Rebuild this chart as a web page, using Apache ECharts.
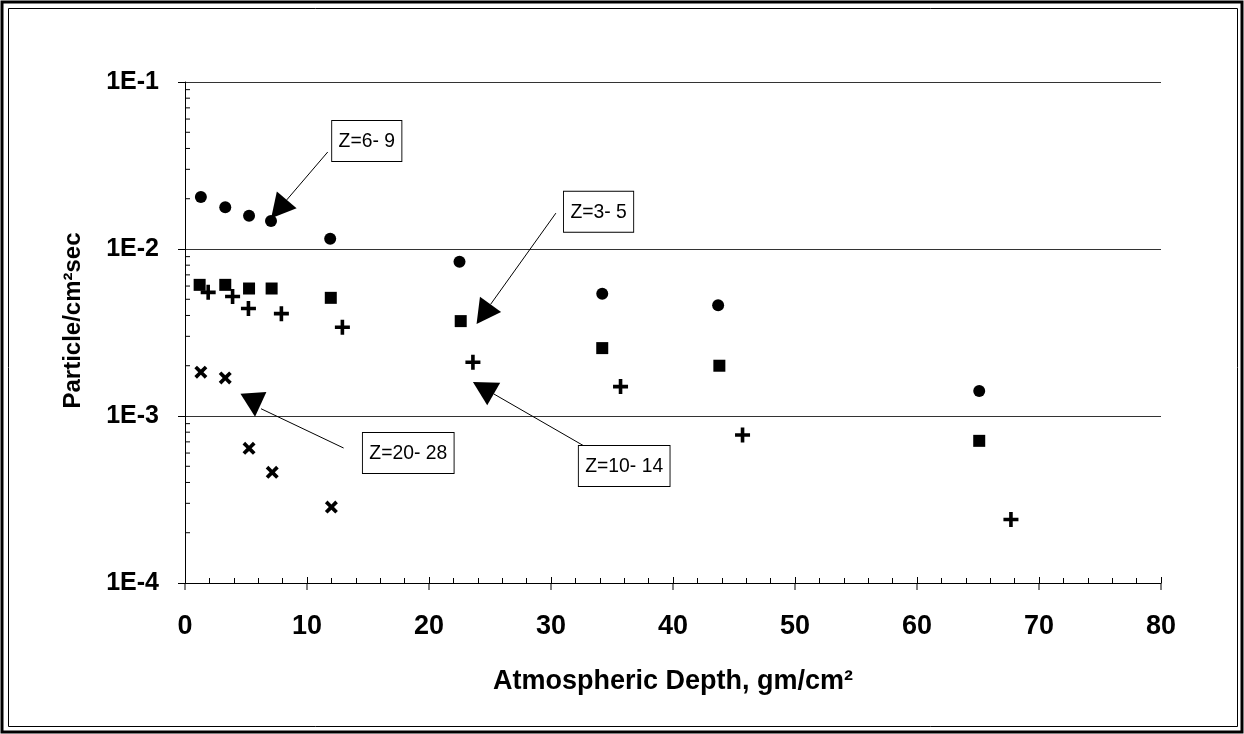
<!DOCTYPE html>
<html>
  <head>
    <meta charset="utf-8" />
    <title>Particle flux vs atmospheric depth</title>
    <script src="https://cdn.jsdelivr.net/npm/echarts@6.0.0/dist/echarts.min.js"></script>
    <style>
      html, body { margin: 0; padding: 0; background: #fff; }
    </style>
  </head>
  <body>
    <div id="main" style="width: 1244px; height: 734px"></div>
    <script type="text/javascript">
      // values (x = gm/cm2, y = particle/cm2 sec)
      var circleX = [1.3, 3.3, 5.25, 7.05, 11.9, 22.5, 34.2, 43.7, 65.1];
      var circleY = [0.0205, 0.0178, 0.0158, 0.0147, 0.0115, 0.0084, 0.0054, 0.0046, 0.00141];

      var squareX = [1.2, 3.3, 5.25, 7.1, 11.95, 22.6, 34.2, 43.8, 65.1];
      var squareY = [0.0061, 0.0061, 0.0058, 0.0058, 0.0051, 0.0037, 0.00255, 0.002, 0.00071];

      var plusX = [1.9, 3.9, 5.2, 7.9, 12.9, 23.6, 35.7, 45.7, 67.7];
      var plusY = [0.0055, 0.0052, 0.0044, 0.0041, 0.0034, 0.0021, 0.0015, 0.00077, 0.00024];

      var crossX = [1.3, 3.3, 5.25, 7.15, 12.0];
      var crossY = [0.00183, 0.00169, 0.00064, 0.00046, 0.000285];

      var xTicks = [0, 10, 20, 30, 40, 50, 60, 70, 80];
      var yDecades = [0.0001, 0.001, 0.01, 0.1];

      // callouts: text, box centre, line start, arrow tip, optional arrow base (data coords)
      var noteText = ["Z=6- 9", "Z=3- 5", "Z=10- 14", "Z=20- 28"];
      var noteBox = [[14.9, 0.0444], [33.9, 0.0167], [36.0, 0.000502], [18.3, 0.0006]];
      var noteTail = [[11.7, 0.0381], [30.4, 0.0164], [33.0, 0.000643], [13.0, 0.000643]];
      var noteTip = [[7.06, 0.0153], [23.9, 0.00356], [23.6, 0.0016], [5.74, 0.00099]];
      var noteHeadBase = [null, null, null, [5.62, 0.00134]];

      var FONT = "'Liberation Sans', Arial, sans-serif";

      function zip(xs, ys) {
        return xs.map(function (x, i) { return [x, ys[i]]; });
      }

      // log minor ticks 2..9 in each decade
      var yMinor = [];
      yDecades.slice(0, 3).forEach(function (d) {
        for (var k = 2; k <= 9; k++) yMinor.push([0, k * d]);
      });
      var xMajorDown = xTicks.map(function (x) { return [x, yDecades[0]]; });

      var plusPath = "path://M3.8,0h2.4v3.8h3.8v2.4h-3.8v3.8h-2.4v-3.8h-3.8v-2.4h3.8z";
      var crossPath = "path://M0,2L2,0L5,3L8,0L10,2L7,5L10,8L8,10L5,7L2,10L0,8L3,5z";

      var myChart = echarts.init(document.getElementById("main"));

      var markStyle = { color: "#000", opacity: 1 };

      var option = {
        animation: false,
        backgroundColor: "#fff",
        grid: { left: 185, right: 83, top: 82, bottom: 151 },
        xAxis: {
          type: "value",
          min: 0,
          max: 80,
          interval: 10,
          name: "Atmospheric Depth, gm/cm²",
          nameLocation: "middle",
          nameGap: 85,
          nameTextStyle: { fontFamily: FONT, fontSize: 27, fontWeight: "bold", color: "#000" },
          axisLine: { lineStyle: { color: "#000", width: 1 } },
          axisTick: { inside: true, length: 6, lineStyle: { color: "#000" } },
          minorTick: { show: true, splitNumber: 5, length: 5, lineStyle: { color: "#000" } },
          splitLine: { show: false },
          axisLabel: { fontFamily: FONT, fontSize: 27, fontWeight: "bold", color: "#000", margin: 30 }
        },
        yAxis: {
          type: "log",
          logBase: 10,
          min: 0.0001,
          max: 0.1,
          name: "Particle/cm²sec",
          nameLocation: "middle",
          nameRotate: 90,
          nameGap: 100,
          nameTextStyle: { fontFamily: FONT, fontSize: 24, fontWeight: "bold", color: "#000", padding: [0, 0, 0, 24] },
          axisLine: { show: true, lineStyle: { color: "#000", width: 1 } },
          axisTick: { show: true, inside: false, length: 7, lineStyle: { color: "#000" } },
          splitLine: { show: true, lineStyle: { color: "#333", width: 1 } },
          axisLabel: {
            fontFamily: FONT, fontSize: 25, fontWeight: "bold", color: "#000", margin: 26,
            formatter: function (v) { return "1E" + Math.round(Math.log10(v)); }
          }
        },
        series: [
          {
            name: "Z=6-9", type: "scatter", symbol: "circle", symbolSize: 12,
            itemStyle: markStyle, data: zip(circleX, circleY)
          },
          {
            name: "Z=3-5", type: "scatter", symbol: "rect", symbolSize: 12,
            itemStyle: markStyle, data: zip(squareX, squareY)
          },
          {
            name: "Z=10-14", type: "scatter", symbol: plusPath, symbolSize: 15,
            itemStyle: markStyle, data: zip(plusX, plusY)
          },
          {
            name: "Z=20-28", type: "scatter", symbol: crossPath, symbolSize: 13,
            itemStyle: markStyle, data: zip(crossX, crossY)
          },
          {
            // minor log ticks on the y axis, pointing into the plot
            type: "custom", silent: true, clip: false, z: 1,
            data: yMinor,
            renderItem: function (params, api) {
              var p = api.coord([api.value(0), api.value(1)]);
              return {
                type: "line",
                shape: { x1: p[0], y1: p[1], x2: p[0] + 5, y2: p[1] },
                style: { stroke: "#000", lineWidth: 1 }
              };
            }
          },
          {
            // lower half of the x major ticks (they cross the axis)
            type: "custom", silent: true, clip: false, z: 1,
            data: xMajorDown,
            renderItem: function (params, api) {
              var p = api.coord([api.value(0), api.value(1)]);
              return {
                type: "line",
                shape: { x1: p[0], y1: p[1], x2: p[0], y2: p[1] + 7 },
                style: { stroke: "#000", lineWidth: 1 }
              };
            }
          }
        ]
      };

      myChart.setOption(option);

      // callout boxes and arrows, placed through the chart's own scales
      var graphics = [
        { type: "rect", shape: { x: 2, y: 2, width: 1240, height: 730 }, style: { fill: null, stroke: "#000", lineWidth: 3 }, z: 100 },
        { type: "rect", shape: { x: 8.5, y: 8.5, width: 1229, height: 718 }, style: { fill: null, stroke: "#000", lineWidth: 1 }, z: 100 }
      ];
      var HEAD_LEN = 24, HEAD_W = 26;
      noteText.forEach(function (txt, i) {
        var px = function (d) { return myChart.convertToPixel({ gridIndex: 0 }, d); };
        var b = px(noteBox[i]);
        var t0 = px(noteTail[i]);
        var tip = px(noteTip[i]);
        var base = noteHeadBase[i] ? px(noteHeadBase[i]) : null;
        var ux, uy, bx, by, lineEnd;
        if (base) {
          var hx = tip[0] - base[0], hy = tip[1] - base[1];
          var hl = Math.sqrt(hx * hx + hy * hy);
          ux = hx / hl; uy = hy / hl;
          bx = tip[0] - ux * HEAD_LEN; by = tip[1] - uy * HEAD_LEN;
          lineEnd = [tip[0] + 6, tip[1] - 8];
        } else {
          var dx = tip[0] - t0[0], dy = tip[1] - t0[1];
          var len = Math.sqrt(dx * dx + dy * dy);
          ux = dx / len; uy = dy / len;
          bx = tip[0] - ux * HEAD_LEN; by = tip[1] - uy * HEAD_LEN;
          lineEnd = [bx, by];
        }
        graphics.push({
          type: "line", z: 50,
          shape: { x1: t0[0], y1: t0[1], x2: lineEnd[0], y2: lineEnd[1] },
          style: { stroke: "#000", lineWidth: 1 }
        });
        graphics.push({
          type: "polygon", z: 51,
          shape: { points: [tip, [bx - uy * HEAD_W / 2, by + ux * HEAD_W / 2], [bx + uy * HEAD_W / 2, by - ux * HEAD_W / 2]] },
          style: { fill: "#000" }
        });
        graphics.push({
          type: "text", z: 60,
          x: b[0], y: b[1],
          scaleX: 0.92,
          style: {
            text: txt, fontFamily: FONT, fontSize: 21, fill: "#000",
            align: "center", verticalAlign: "middle",
            backgroundColor: "#fff", borderColor: "#000", borderWidth: 1,
            padding: [10, 7, 9, 7]
          }
        });
      });
      myChart.setOption({ graphic: graphics });
    </script>
  </body>
</html>
